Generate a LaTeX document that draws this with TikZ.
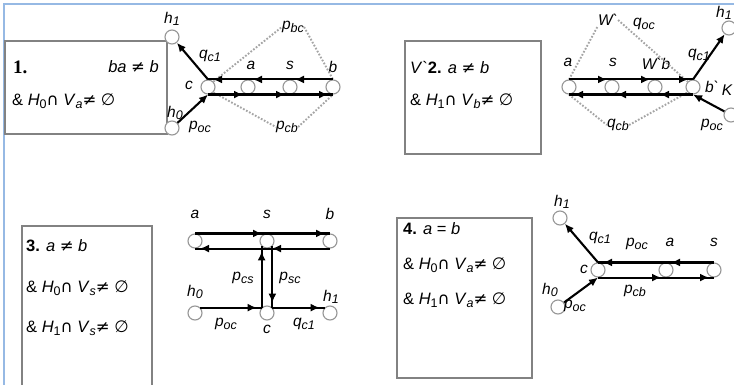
\documentclass[tikz,border=0pt]{standalone}
\usepackage{fontspec}
\setmainfont{Liberation Sans}
\newfontfamily\symf{DejaVu Sans}
\newfontfamily\serf{Liberation Serif}
\newfontfamily\gravef{Liberation Sans}[Ligatures=TeXOff]
\usetikzlibrary{arrows.meta,decorations.markings}
\newcommand\lsub[2]{#1\raisebox{-0.3ex}{\fontsize{12.5}{12.5}\selectfont #2}}
\newcommand\NEQ{{\upshape\symf ≠}}
\newcommand\CAPS{{\upshape\symf ∩}}
\newcommand\EMPT{{\upshape\symf ∅}}
\newcommand\GRV{{\gravef `}}
\definecolor{framebl}{RGB}{150,185,228}
\definecolor{nodegray}{RGB}{150,150,150}
\definecolor{dotgray}{RGB}{165,165,165}
\definecolor{boxgray}{RGB}{130,130,130}
\tikzset{
  v/.style={circle, draw=nodegray, line width=1.1pt, minimum size=14pt, inner sep=0pt, fill=white},
  lbl/.style={font=\fontsize{15.5}{15.5}\selectfont\itshape, inner sep=0pt},
  btxt/.style={font=\fontsize{16.5}{16.5}\selectfont, inner sep=0pt, anchor=west},
  seg/.style={line width=2.1pt, postaction=decorate,
    decoration={markings, mark=at position -5pt with {\arrow{Latex[length=9pt,width=8pt]}}}},
  arr/.style={line width=2.1pt, -{Latex[length=9pt,width=8pt]}},
  dotl/.style={dotgray, line width=1.9pt, dash pattern=on 1.7pt off 1.7pt},
  boxl/.style={draw=boxgray, line width=1.2pt},
}
\begin{document}
\begin{tikzpicture}[x=1pt,y=-1pt]
\useasboundingbox (0,0) rectangle (734,385);
\clip (0,0) rectangle (734,385);
\fill[white] (0,0) rectangle (734,385);
\draw[framebl, line width=1.3pt] (4,385) -- (4,4) -- (734,4);

% ---------------- Panel 1 ----------------
\draw[boxl] (5,41) rectangle (167,134);
\node[btxt] (t11) at (13,67) {\serf\bfseries\fontsize{19}{19}\selectfont 1.};
\node[btxt, anchor=east] (t12) at (159,67) {\itshape ba \NEQ\ b};
\node[btxt] (t13) at (12,101) {\& \textit{H}\lsub{}{0}\CAPS\ \textit{V}\lsub{}{\textit{a}}\NEQ\ \EMPT};

\node[v] (c1) at (208,87) {};
\node[v] (a1) at (248,87) {};
\node[v] (s1) at (290,87) {};
\node[v] (b1) at (333,87) {};
\node[v] (h11) at (172,37) {};
\node[v] (h01) at (172,128) {};

\node[lbl] (lh11) at (172,19) {\lsub{h}{1}};
\node[lbl] (lh01) at (175,113) {\lsub{h}{0}};
\node[lbl] (lc1) at (189,85) {c};
\node[lbl] (lq1) at (210,56) {\lsub{q}{c1}};
\node[lbl] (lp1) at (200,127) {\lsub{p}{oc}};
\node[lbl] (la1) at (251,65) {a};
\node[lbl] (ls1) at (290,65) {s};
\node[lbl] (lb1) at (333,67) {b};
\node[lbl] (lpbc1) at (293,27) {\lsub{p}{bc}};
\node[lbl] (lpcb1) at (287,127) {\lsub{p}{cb}};

\draw[dotl] (c1.north east) -- (lpbc1.west);
\draw[dotl] (lpbc1.east) -- (b1.north);
\draw[dotl] (c1.south east) -- (lpcb1.west);
\draw[dotl] (lpcb1.east) -- (b1.south);

\draw[seg] (b1.north) -- (s1.north);
\draw[seg] (s1.north) -- (a1.north);
\draw[seg] (a1.north) -- (c1.north);
\draw[seg] (c1.south) -- (a1.south);
\draw[seg] (a1.south) -- (s1.south);
\draw[seg] (s1.south) -- (b1.south);
\draw[arr] (c1.north) -- (h11);
\draw[arr] (h01) -- (c1.south);

% ---------------- Panel 2 ----------------
\draw[boxl] (405,41) rectangle (541,154);
\node[btxt] (t21) at (410,68) {\textit{V}\GRV\textbf{2.} \textit{a} \NEQ\ \textit{b}};
\node[btxt] (t22) at (410,101) {\& \textit{H}\lsub{}{1}\CAPS\ \textit{V}\lsub{}{\textit{b}}\NEQ\ \EMPT};

\node[v] (a2) at (569,87) {};
\node[v] (s2) at (612,87) {};
\node[v] (w2) at (655,87) {};
\node[v] (b2) at (693,87) {};
\node[v] (h12) at (729,28) {};
\node[v] (h02) at (731,115) {};

\node[lbl] (la2) at (568,62) {a};
\node[lbl] (ls2) at (613,62) {s};
\node[lbl] (lw2) at (656,64) {W\GRV b};
\node[lbl] (lW2) at (608,20) {W\GRV};
\node[lbl] (lqoc2) at (644,24) {\lsub{q}{oc}};
\node[lbl] (lq2) at (699,55) {\lsub{q}{c1}};
\node[lbl] (lbb2) at (712,87) {b\GRV};
\node[lbl] (lk2) at (727,90) {K};
\node[lbl] (lp2) at (712,125) {\lsub{p}{oc}};
\node[lbl] (lqcb2) at (618,125) {\lsub{q}{cb}};
\node[lbl] (lh12) at (724,13) {\lsub{h}{1}};

\draw[dotl] (a2.north) -- (lW2.south west);
\draw[dotl] (lW2.east) -- (b2.north west);
\draw[dotl] (a2.south) -- (lqcb2.west);
\draw[dotl] (lqcb2.east) -- (b2.south west);

\draw[seg] (a2.north) -- (s2.north);
\draw[seg] (s2.north) -- (w2.north);
\draw[seg] (w2.north) -- (b2.north);
\draw[seg] (b2.south) -- (w2.south);
\draw[seg] (w2.south) -- (s2.south);
\draw[seg] (s2.south) -- (a2.south);
\draw[arr] (b2.north) -- (h12);
\draw[arr] (h02) -- (b2.south);

% ---------------- Panel 3 ----------------
\draw[boxl] (22,226) rectangle (152,400);
\node[btxt] (t31) at (26,246) {\textbf{3.} \textit{a} \NEQ\ \textit{b}};
\node[btxt] (t32) at (26,288) {\& \textit{H}\lsub{}{0}\CAPS\ \textit{V}\lsub{}{\textit{s}}\NEQ\ \EMPT};
\node[btxt] (t33) at (26,328) {\& \textit{H}\lsub{}{1}\CAPS\ \textit{V}\lsub{}{\textit{s}}\NEQ\ \EMPT};

\node[v] (a3) at (195,241) {};
\node[v] (s3) at (267,241) {};
\node[v] (b3) at (330,241) {};
\node[v] (h03) at (195,313) {};
\node[v] (c3) at (267,313) {};
\node[v] (h13) at (330,313) {};

\node[lbl] (la3) at (195,214) {a};
\node[lbl] (ls3) at (267,214) {s};
\node[lbl] (lb3) at (330,214) {b};
\node[lbl] (lh03) at (195,292) {\lsub{h}{0}};
\node[lbl] (lh13) at (331,297) {\lsub{h}{1}};
\node[lbl] (lpcs3) at (243,278) {\lsub{p}{cs}};
\node[lbl] (lpsc3) at (290,278) {\lsub{p}{sc}};
\node[lbl] (lpoc3) at (226,324) {\lsub{p}{oc}};
\node[lbl] (lc3) at (267,329) {c};
\node[lbl] (lq3) at (304,324) {\lsub{q}{c1}};

\draw[seg] (a3.north) -- (s3.north);
\draw[seg] (s3.north) -- (b3.north);
\draw[seg] (b3.south) -- (s3.south);
\draw[seg] (s3.south) -- (a3.south);
\draw[seg] (c3.north west) -- (s3.south west);
\draw[seg] (s3.south east) -- (c3.north east);
\draw[seg] (h03.north east) -- (c3.north west);
\draw[seg] (c3.north east) -- (h13.north west);

% ---------------- Panel 4 ----------------
\draw[boxl] (397,218) rectangle (532,378);
\node[btxt] (t41) at (403,229) {\textbf{4.} \textit{a} = \textit{b}};
\node[btxt] (t42) at (403,265) {\& \textit{H}\lsub{}{0}\CAPS\ \textit{V}\lsub{}{\textit{a}}\NEQ\ \EMPT};
\node[btxt] (t43) at (403,300) {\& \textit{H}\lsub{}{1}\CAPS\ \textit{V}\lsub{}{\textit{a}}\NEQ\ \EMPT};

\node[v] (c4) at (598,270) {};
\node[v] (a4) at (666,270) {};
\node[v] (s4) at (714,270) {};
\node[v] (h14) at (560,218) {};
\node[v] (h04) at (558,307) {};

\node[lbl] (lh14) at (562,202) {\lsub{h}{1}};
\node[lbl] (lq4) at (600,238) {\lsub{q}{c1}};
\node[lbl] (lpoc4) at (637,244) {\lsub{p}{oc}};
\node[lbl] (la4) at (670,242) {a};
\node[lbl] (ls4) at (714,242) {s};
\node[lbl] (lc4) at (584,269) {c};
\node[lbl] (lh04) at (550,290) {\lsub{h}{0}};
\node[lbl] (lpoc4b) at (575,306) {\lsub{p}{oc}};
\node[lbl] (lpcb4) at (635,291) {\lsub{p}{cb}};

\draw[seg] (s4.north) -- (a4.north);
\draw[seg] (a4.north) -- (c4.north);
\draw[seg] (c4.south) -- (a4.south);
\draw[seg] (a4.south) -- (s4.south);
\draw[arr] (c4.north) -- (h14);
\draw[arr] (h04) -- (c4.south);
\end{tikzpicture}
\end{document}
